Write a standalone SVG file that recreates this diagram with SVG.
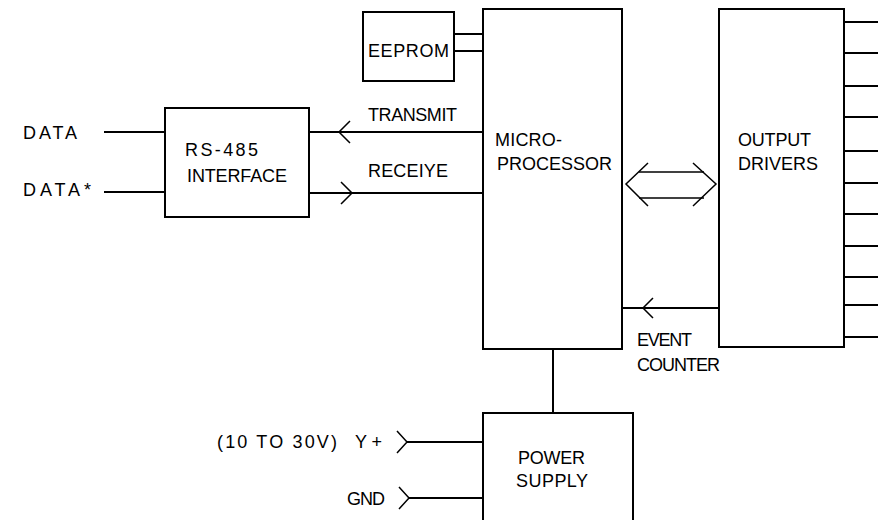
<svg xmlns="http://www.w3.org/2000/svg" width="888" height="520" viewBox="0 0 888 520">
<style>
.box{fill:#fff;stroke:#000;stroke-width:2}
.ln{fill:none;stroke:#000;stroke-width:2}
.ch{fill:none;stroke:#000;stroke-width:1.5}
text{font-family:"Liberation Sans","DejaVu Sans",sans-serif;font-size:18px;fill:#000}
</style>
<rect width="888" height="520" fill="#fff"/>
<g id="connectors">
<line class="ln" x1="104" y1="132" x2="165" y2="132"/>
<line class="ln" x1="104" y1="192" x2="165" y2="192"/>
<line class="ln" x1="309" y1="132" x2="483" y2="132"/>
<polyline class="ch" points="350,121 339,132 350,143"/>
<line class="ln" x1="309" y1="193" x2="483" y2="193"/>
<polyline class="ch" points="341,182 352,193 341,204"/>
<line class="ln" x1="454" y1="34" x2="483" y2="34"/>
<line class="ln" x1="454" y1="51" x2="483" y2="51"/>
<polyline class="ch" points="648,163 626,184 648,206"/>
<polyline class="ch" points="693,163 716,184 693,206"/>
<line class="ch" x1="639" y1="172" x2="704" y2="172"/>
<line class="ch" x1="639" y1="198" x2="704" y2="198"/>
<line class="ln" x1="622" y1="308" x2="719" y2="308"/>
<polyline class="ch" points="653,298 643,308 653,318"/>
<line class="ln" x1="553" y1="349" x2="553" y2="413"/>
<line class="ln" x1="407" y1="442" x2="483" y2="442"/>
<polyline class="ch" points="397,431 407,442 397,453"/>
<line class="ln" x1="409" y1="498" x2="483" y2="498"/>
<polyline class="ch" points="399,487 409,498 399,509"/>
<g id="outputs">
<line class="ln" x1="844" y1="22" x2="878" y2="22"/>
<line class="ln" x1="844" y1="53" x2="878" y2="53"/>
<line class="ln" x1="844" y1="86" x2="878" y2="86"/>
<line class="ln" x1="844" y1="117" x2="878" y2="117"/>
<line class="ln" x1="844" y1="151" x2="878" y2="151"/>
<line class="ln" x1="844" y1="183" x2="878" y2="183"/>
<line class="ln" x1="844" y1="214" x2="878" y2="214"/>
<line class="ln" x1="844" y1="246" x2="878" y2="246"/>
<line class="ln" x1="844" y1="277" x2="878" y2="277"/>
<line class="ln" x1="844" y1="305" x2="878" y2="305"/>
<line class="ln" x1="844" y1="337" x2="878" y2="337"/>
</g>
</g>
<g id="labels">
<text x="23" y="139" textLength="54" lengthAdjust="spacing">DATA</text>
<text x="23" y="196" textLength="68" lengthAdjust="spacing">DATA*</text>
<text x="368" y="121" textLength="89" lengthAdjust="spacing">TRANSMIT</text>
<text x="368" y="177" textLength="80" lengthAdjust="spacing">RECEIYE</text>
<text x="637" y="346" textLength="55" lengthAdjust="spacing">EVENT</text>
<text x="637" y="371" textLength="83" lengthAdjust="spacing">COUNTER</text>
<text x="217" y="448" textLength="120" lengthAdjust="spacing">(10 TO 30V)</text>
<text x="355" y="448" textLength="27" lengthAdjust="spacing">Y+</text>
<text x="347" y="505" textLength="38" lengthAdjust="spacing">GND</text>
</g>
<g id="eeprom">
<rect class="box" x="363" y="12" width="91" height="69"/>
<text x="368" y="57" textLength="81" lengthAdjust="spacing">EEPROM</text>
</g>
<g id="rs485">
<rect class="box" x="165" y="108" width="144" height="109"/>
<text x="185" y="156" textLength="73" lengthAdjust="spacing">RS-485</text>
<text x="187" y="182" textLength="100" lengthAdjust="spacing">INTERFACE</text>
</g>
<g id="microprocessor">
<rect class="box" x="483" y="9" width="139" height="340"/>
<text x="495" y="146" textLength="67" lengthAdjust="spacing">MICRO-</text>
<text x="497" y="170" textLength="115" lengthAdjust="spacing">PROCESSOR</text>
</g>
<g id="output-drivers">
<rect class="box" x="719" y="9" width="125" height="338"/>
<text x="738" y="146" textLength="73" lengthAdjust="spacing">OUTPUT</text>
<text x="738" y="170" textLength="80" lengthAdjust="spacing">DRIVERS</text>
</g>
<g id="power-supply">
<rect class="box" x="483" y="413" width="150" height="120"/>
<text x="518" y="464" textLength="67" lengthAdjust="spacing">POWER</text>
<text x="516" y="487" textLength="72" lengthAdjust="spacing">SUPPLY</text>
</g>
</svg>
